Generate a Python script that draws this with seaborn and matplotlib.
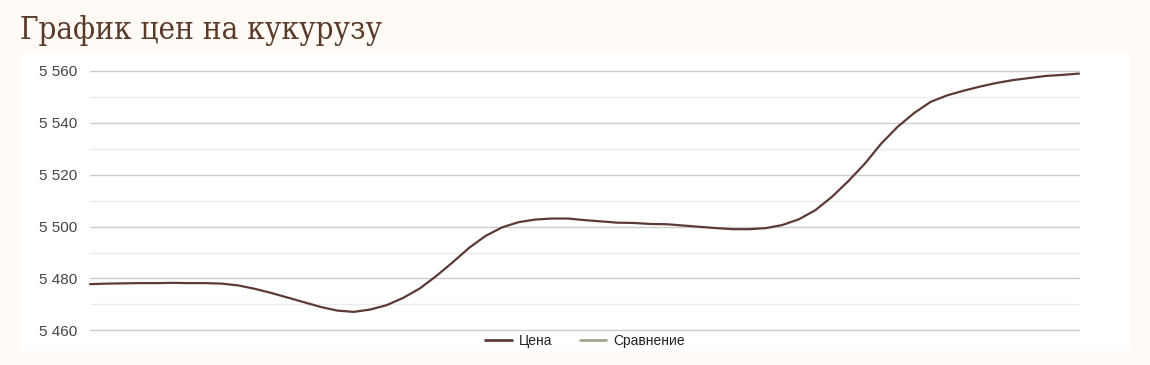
import matplotlib
matplotlib.use("Agg")
import matplotlib.pyplot as plt
from matplotlib.lines import Line2D
from matplotlib.ticker import FuncFormatter, FixedLocator
import seaborn as sns
import pandas as pd

# ---- data ----
title = "График цен на кукурузу"
series_name = "Цена"
compare_name = "Сравнение"
price = [5477.8, 5478.0, 5478.1, 5478.2, 5478.2, 5478.3, 5478.2, 5478.2,
         5478.0, 5477.3, 5476.0, 5474.4, 5472.6, 5470.8, 5469.0, 5467.6,
         5467.1, 5468.0, 5469.7, 5472.5, 5476.1, 5480.9, 5486.2, 5491.8,
         5496.4, 5499.7, 5501.7, 5502.7, 5503.1, 5503.1, 5502.5, 5502.0,
         5501.5, 5501.4, 5501.0, 5500.9, 5500.4, 5499.9, 5499.4, 5499.0,
         5499.0, 5499.4, 5500.6, 5502.8, 5506.3, 5511.4, 5517.5, 5524.2,
         5532.0, 5538.5, 5543.8, 5548.1, 5550.6, 5552.4, 5554.0, 5555.4,
         5556.5, 5557.3, 5558.1, 5558.5, 5559.0]
step = list(range(len(price)))
y_ticks = [5460, 5480, 5500, 5520, 5540, 5560]
y_minor = [5470, 5490, 5510, 5530, 5550]

# ---- styles ----
BG = "#FFFAF6"
PRICE_COLOR = "#5C3B35"
COMPARE_COLOR = "#A6A68E"
TITLE_COLOR = "#5A3A28"
TEXT_COLOR = "#444444"

sns.set_theme(style="white")
plt.rcParams["font.family"] = ["Liberation Sans", "DejaVu Sans"]

W, H = 1150, 365
fig = plt.figure(figsize=(W / 100, H / 100), dpi=100, facecolor=BG)

# white panel behind chart
panel = fig.add_axes([20 / W, 1 - 351 / H, (1130 - 20) / W, (351 - 52) / H], zorder=-5)
panel.set_facecolor("white")
panel.set_xticks([])
panel.set_yticks([])
for s in panel.spines.values():
    s.set_visible(False)

fig.text(20 / W, 1 - 39 / H, title, family=["DejaVu Serif"], fontstretch="condensed",
         fontsize=22.5, color=TITLE_COLOR, ha="left", va="baseline")

left, right = 90 / W, 1079 / W
bottom, top = 1 - 330.3 / H, 1 - 71 / H
ax = fig.add_axes([left, bottom, right - left, top - bottom], zorder=1)
ax.set_facecolor("none")

df = pd.DataFrame({"step": step, "price": price})
sns.lineplot(data=df, x="step", y="price", ax=ax, color=PRICE_COLOR,
             linewidth=1.6, clip_on=False, legend=False)

ax.set_xlim(step[0], step[-1])
ax.set_ylim(y_ticks[0], y_ticks[-1])
ax.set_yticks(y_ticks)
ax.yaxis.set_minor_locator(FixedLocator(y_minor))
ax.yaxis.set_major_formatter(FuncFormatter(lambda v, p: f"{int(round(v)):,}".replace(",", " ")))
ax.grid(which="major", axis="y", color="#CCCCCC", linewidth=1.0, clip_on=False)
ax.grid(which="minor", axis="y", color="#EBEBEB", linewidth=1.0, clip_on=False)
ax.set_axisbelow(True)
ax.set_xticks([])
ax.set_xlabel("")
ax.set_ylabel("")
for s in ax.spines.values():
    s.set_visible(False)
ax.tick_params(axis="y", which="both", length=0, pad=9, labelsize=11,
               labelcolor=TEXT_COLOR)

handles = [Line2D([], [], color=PRICE_COLOR, linewidth=2),
           Line2D([], [], color=COMPARE_COLOR, linewidth=2)]
fig.legend(handles, [series_name, compare_name], loc="center",
           bbox_to_anchor=(585 / W, 1 - 341 / H), ncol=2, frameon=False,
           fontsize=10, handlelength=1.9, handletextpad=0.5, columnspacing=2.0,
           labelcolor="#222222")

fig.savefig("out.png", dpi=100, facecolor=BG)
